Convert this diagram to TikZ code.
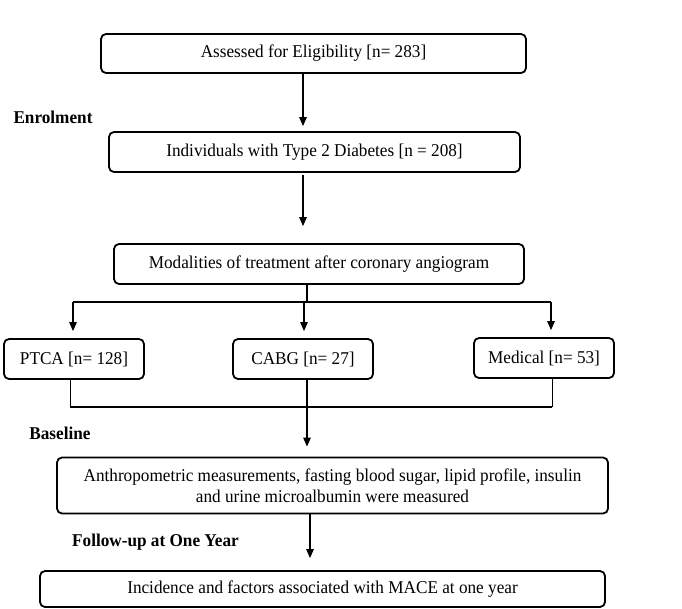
\documentclass[tikz,border=0pt]{standalone}
\usepackage{fontspec}
\setmainfont{Liberation Serif}[FakeStretch=0.955]
\usetikzlibrary{arrows.meta}
\begin{document}
\begin{tikzpicture}[x=1pt,y=-1pt,
  box/.style={draw, line width=1.8pt, rounded corners=5pt, inner sep=0pt, align=center,
    font=\fontsize{18}{20.5}\selectfont},
  lab/.style={font=\fontsize{18}{20}\selectfont\bfseries, inner sep=0pt},
  arr/.style={line width=1.2pt, -{Triangle[length=9pt,width=7.5pt]}},
  thin/.style={line width=0.8pt},
  bar/.style={line width=1.8pt}]
\useasboundingbox (0,0) rectangle (682,608);
\node[box, minimum width=425pt, minimum height=39pt] (b1) at (313.5,53.5) {Assessed for Eligibility [n= 283]};
\node[box, minimum width=411pt, minimum height=40pt] (b2) at (314.5,152) {Individuals with Type 2 Diabetes [n = 208]};
\node[box, minimum width=410pt, minimum height=40pt] (b3) at (319,264) {Modalities of treatment after coronary angiogram};
\node[box, minimum width=140pt, minimum height=40pt] (p) at (74,359) {PTCA [n= 128]};
\node[box, minimum width=140pt, minimum height=40pt] (c) at (303,359) {CABG [n= 27]};
\node[box, minimum width=140pt, minimum height=40pt] (m) at (544,358) {Medical [n= 53]};
\node[box, minimum width=551pt, minimum height=56pt] (bs) at (332.5,485.5) {Anthropometric measurements, fasting blood sugar, lipid profile, insulin\\and urine microalbumin were measured};
\node[box, minimum width=565pt, minimum height=36pt] (f) at (322.5,589) {Incidence and factors associated with MACE at one year};
\node[lab] (l1) at (53,117) {Enrolment};
\node[lab] (l2) at (60,433) {Baseline};
\node[lab] (l3) at (155.5,542) {Follow-up at One Year};
% connector guides
\coordinate (x1) at (303,0);
\coordinate (x2) at (307,0);
\coordinate (xl) at (73,0);
\coordinate (xr) at (551,0);
\coordinate (xm) at (304,0);
\coordinate (y1) at (0,302);
\coordinate (y2) at (0,407);
\coordinate (xpl) at (70,0);
\coordinate (xpr) at (552,0);
\coordinate (x3) at (310,0);
\draw[arr, shorten >=5pt] (b1.south -| x1) -- (b2.north -| x1);
\draw[arr, shorten <=2pt, shorten >=17pt] (b2.south -| x1) -- (b3.north -| x1);
\draw[bar] (b3.south -| x2) -- (y1 -| x2);
\draw[bar] (y1 -| xl) -- (y1 -| xr);
\draw[arr, shorten >=7pt] (y1 -| xl) -- (p.north -| xl);
\draw[arr, shorten >=7pt] (y1 -| xm) -- (c.north -| xm);
\draw[arr, shorten >=7pt] (y1 -| xr) -- (m.north -| xr);
\draw[thin] (p.south -| xpl) -- (y2 -| xpl);
\draw[thin] (m.south -| xpr) -- (y2 -| xpr);
\draw[bar] (y2 -| xpl) -- (y2 -| xpr);
\draw[arr, shorten >=10pt] (c.south -| x2) -- (bs.north -| x2);
\draw[arr, shorten >=12pt] (bs.south -| x3) -- (f.north -| x3);
\end{tikzpicture}
\end{document}
